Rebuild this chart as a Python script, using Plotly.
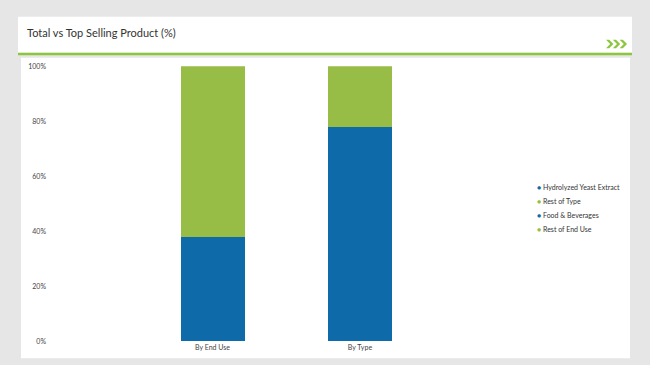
import plotly.graph_objects as go

categories = ["By End Use", "By Type"]
top_share = [38, 78]
rest_share = [62, 22]
y_ticks = [0, 20, 40, 60, 80, 100]
y_tick_labels = ["0%", "20%", "40%", "60%", "80%", "100%"]
legend_names = ["Hydrolyzed Yeast Extract", "Rest of Type", "Food & Beverages", "Rest of End Use"]
legend_colors = ["#0e6aa8", "#97bd47", "#0e6aa8", "#97bd47"]

BLUE = "#0e6aa8"
GREEN = "#97bd47"
W, H = 650, 365
FONT = "Lato"

def px(x):
    return x / W

def py(y):
    # empirical correction of the vertical placement
    y = y / 0.9765 - 4.48
    return 1 - y / H

fig = go.Figure()
fig.add_trace(go.Bar(x=categories, y=top_share, marker=dict(color=BLUE, line=dict(width=0)),
                     width=0.434, showlegend=False, hoverinfo="y"))
fig.add_trace(go.Bar(x=categories, y=rest_share, marker=dict(color=GREEN, line=dict(width=0)),
                     width=0.434, showlegend=False, hoverinfo="y"))

shapes = [
    dict(type="rect", xref="paper", yref="paper", x0=px(18), x1=px(632), y0=py(52), y1=py(16),
         fillcolor="white", line=dict(width=0), layer="below"),
    dict(type="rect", xref="paper", yref="paper", x0=px(18), x1=px(632), y0=py(54.5), y1=py(52),
         fillcolor="#8cc63f", line=dict(width=0), layer="below"),
    dict(type="rect", xref="paper", yref="paper", x0=px(21), x1=px(630), y0=py(357), y1=py(57),
         fillcolor="white", line=dict(width=0), layer="below"),
]
for i in range(3):
    x0 = 606 + i * 6.8
    yt, yb, yc = 39, 47.5, 43.25
    pts = [(x0, yt), (x0 + 3.2, yt), (x0 + 7.4, yc), (x0 + 3.2, yb), (x0, yb), (x0 + 4.2, yc)]
    path = "M " + " L ".join(f"{px(a):.5f},{py(b):.5f}" for a, b in pts) + " Z"
    shapes.append(dict(type="path", xref="paper", yref="paper", path=path,
                       fillcolor="#8cc63f", line=dict(width=0), layer="above"))

annotations = [dict(text="Total vs Top Selling Product (%)", xref="paper", yref="paper",
                    x=px(25), y=py(32), xanchor="left", yanchor="middle", showarrow=False,
                    font=dict(family=FONT, size=11, color="#333"))]
for i, (name, col) in enumerate(zip(legend_names, legend_colors)):
    annotations.append(dict(
        text=f"<span style='color:{col}'>●</span> {name}",
        xref="paper", yref="paper", x=px(534.5), y=py(186 + 14 * i),
        xanchor="left", yanchor="middle", showarrow=False,
        font=dict(family=FONT, size=7, color="#333")))

fig.update_layout(
    width=W, height=H,
    autosize=False,
    margin=dict(l=0, r=0, t=0, b=0, pad=0),
    paper_bgcolor="#e6e6e6",
    plot_bgcolor="rgba(0,0,0,0)",
    barmode="stack",
    showlegend=False,
    font=dict(family=FONT, size=7, color="#444"),
    shapes=shapes,
    annotations=annotations,
    xaxis=dict(domain=[px(47), px(530)], range=[-1.136 + (47 - 45) / 147.5, 2.153],
               showgrid=False, zeroline=False, showline=False, ticks="",
               ticklabelstandoff=1, tickfont=dict(size=7, color="#444")),
    yaxis=dict(domain=[py(340), py(65.6)], range=[0, 100], tickmode="array",
               tickvals=y_ticks, ticktext=y_tick_labels,
               showgrid=False, zeroline=False, showline=False, ticks="",
               tickfont=dict(size=7, color="#444")),
)

post = (
    "document.documentElement.style.margin='0';"
    "document.documentElement.style.padding='0';"
    "document.documentElement.style.overflow='hidden';"
    "document.body.style.margin='0';"
    "document.body.style.padding='0';"
    "document.body.style.overflow='hidden';"
)
fig.write_html("out.html", config={"displayModeBar": False}, post_script=post)
